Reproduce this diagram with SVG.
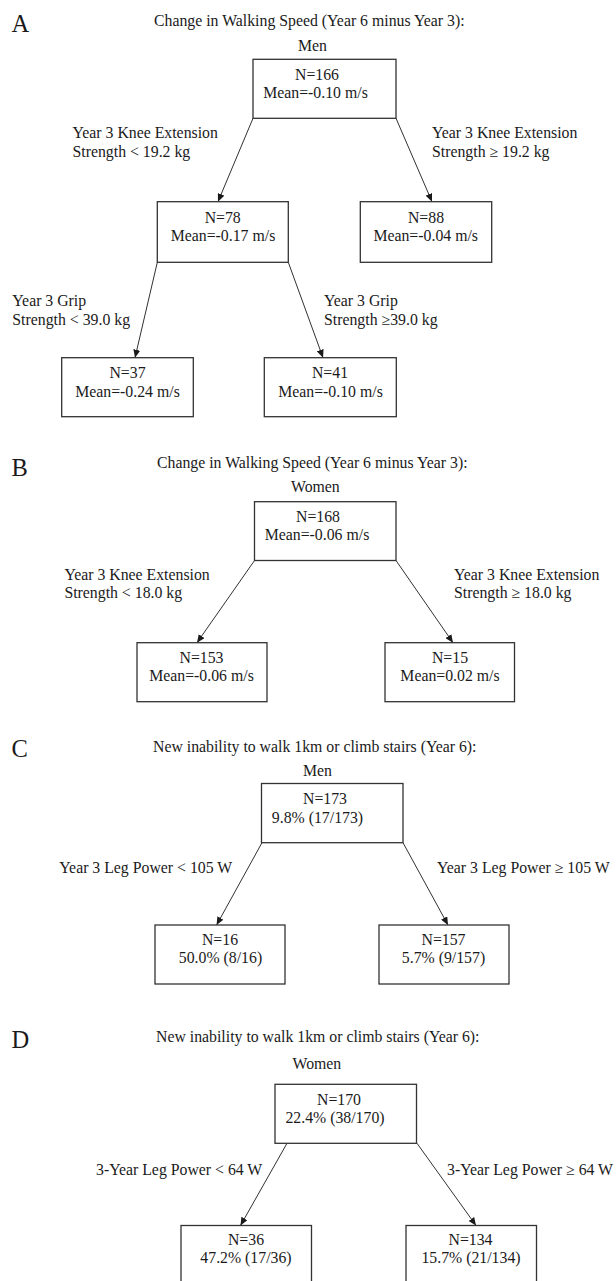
<svg xmlns="http://www.w3.org/2000/svg" width="616" height="1281" viewBox="0 0 616 1281">
<style>
text{font-family:"Liberation Serif","Times New Roman",serif;font-size:15.8px;fill:#1a1a1a}
.panel{font-size:24.5px}
.m{text-anchor:middle}
.box{fill:#fff;stroke:#333;stroke-width:1.3}
.edge{stroke:#1a1a1a;stroke-width:0.9;fill:none;marker-end:url(#arr)}
</style>
<defs>
<marker id="arr" markerUnits="userSpaceOnUse" markerWidth="9" markerHeight="7" refX="8" refY="3.5" orient="auto">
<path d="M0,0 L8,3.5 L0,7 z" fill="#1a1a1a"/>
</marker>
</defs>
<rect width="616" height="1281" fill="#fff"/>

<!-- Panel headers -->
<g id="headers">
<text class="panel" x="11.5" y="32">A</text>
<text x="154" y="25.5">Change in Walking Speed (Year 6 minus Year 3):</text>
<text x="298" y="51">Men</text>
<text class="panel" x="11.5" y="475.5">B</text>
<text x="157" y="468.3">Change in Walking Speed (Year 6 minus Year 3):</text>
<text x="291" y="491.7">Women</text>
<text class="panel" x="11.5" y="757">C</text>
<text x="153" y="751.7">New inability to walk 1km or climb stairs (Year 6):</text>
<text x="303" y="776">Men</text>
<text class="panel" x="11.5" y="1048">D</text>
<text x="156" y="1041.7">New inability to walk 1km or climb stairs (Year 6):</text>
<text x="292.5" y="1069">Women</text>
</g>

<!-- Connectors -->
<g id="connectors">
<line class="edge" x1="253" y1="118.3" x2="218" y2="201.7"/>
<line class="edge" x1="396" y1="118.3" x2="432" y2="201.7"/>
<line class="edge" x1="157.3" y1="262.3" x2="135" y2="357.7"/>
<line class="edge" x1="288.3" y1="262.3" x2="323" y2="357.7"/>
<line class="edge" x1="254.5" y1="560.5" x2="197" y2="642.7"/>
<line class="edge" x1="396" y1="560.5" x2="453" y2="642.7"/>
<line class="edge" x1="262" y1="842.7" x2="216.6" y2="925"/>
<line class="edge" x1="403" y1="842.7" x2="448" y2="925"/>
<line class="edge" x1="287" y1="1143.3" x2="240.5" y2="1225.5"/>
<line class="edge" x1="417" y1="1143.3" x2="476" y2="1225.5"/>
<text x="72.5" y="138">Year 3 Knee Extension</text>
<text x="72.5" y="157">Strength &lt; 19.2 kg</text>
<text x="432" y="138">Year 3 Knee Extension</text>
<text x="432" y="157">Strength ≥ 19.2 kg</text>
<text x="12.3" y="306">Year 3 Grip</text>
<text x="12.3" y="324.5">Strength &lt; 39.0 kg</text>
<text x="324" y="306">Year 3 Grip</text>
<text x="324" y="324.5">Strength ≥39.0 kg</text>
<text x="64.4" y="580">Year 3 Knee Extension</text>
<text x="64.4" y="598.3">Strength &lt; 18.0 kg</text>
<text x="454" y="580">Year 3 Knee Extension</text>
<text x="454" y="598.3">Strength ≥ 18.0 kg</text>
<text x="59.3" y="873.3">Year 3 Leg Power &lt; 105 W</text>
<text x="437" y="873.3">Year 3 Leg Power ≥ 105 W</text>
<text x="96" y="1174.5">3-Year Leg Power &lt; 64 W</text>
<text x="447" y="1174.5">3-Year Leg Power ≥ 64 W</text>
</g>

<!-- Panel A nodes -->
<g id="a-root">
<rect class="box" x="253" y="59.3" width="143" height="59"/>
<text class="m" x="317" y="79.5">N=166</text>
<text class="m" x="315.5" y="98">Mean=-0.10 m/s</text>
</g>
<g id="a-n78">
<rect class="box" x="157.3" y="201.7" width="131" height="60.6"/>
<text class="m" x="222.7" y="222.7">N=78</text>
<text class="m" x="223" y="240.7">Mean=-0.17 m/s</text>
</g>
<g id="a-n88">
<rect class="box" x="360.3" y="201.7" width="131.4" height="60.6"/>
<text class="m" x="426" y="222.7">N=88</text>
<text class="m" x="425.7" y="240.7">Mean=-0.04 m/s</text>
</g>
<g id="a-n37">
<rect class="box" x="61.7" y="357.7" width="131.6" height="59"/>
<text class="m" x="127.5" y="378.3">N=37</text>
<text class="m" x="127.5" y="396.7">Mean=-0.24 m/s</text>
</g>
<g id="a-n41">
<rect class="box" x="264.3" y="357.7" width="132" height="59"/>
<text class="m" x="330" y="378.3">N=41</text>
<text class="m" x="330.5" y="396.7">Mean=-0.10 m/s</text>
</g>

<!-- Panel B nodes -->
<g id="b-root">
<rect class="box" x="254.5" y="501.7" width="141.5" height="58.8"/>
<text class="m" x="318" y="521.7">N=168</text>
<text class="m" x="317" y="540">Mean=-0.06 m/s</text>
</g>
<g id="b-n153">
<rect class="box" x="137" y="642.7" width="130" height="59"/>
<text class="m" x="201.5" y="662.7">N=153</text>
<text class="m" x="201.5" y="680.7">Mean=-0.06 m/s</text>
</g>
<g id="b-n15">
<rect class="box" x="385" y="642.7" width="129.5" height="59"/>
<text class="m" x="450" y="662.7">N=15</text>
<text class="m" x="450" y="680.7">Mean=0.02 m/s</text>
</g>

<!-- Panel C nodes -->
<g id="c-root">
<rect class="box" x="261.5" y="783.5" width="141.5" height="59.2"/>
<text class="m" x="325" y="804">N=173</text>
<text class="m" x="317.5" y="822.7">9.8% (17/173)</text>
</g>
<g id="c-n16">
<rect class="box" x="155" y="925" width="130" height="59"/>
<text class="m" x="220" y="945">N=16</text>
<text class="m" x="220.5" y="963.3">50.0% (8/16)</text>
</g>
<g id="c-n157">
<rect class="box" x="379" y="925" width="130" height="59"/>
<text class="m" x="443.5" y="945">N=157</text>
<text class="m" x="443.5" y="963.3">5.7% (9/157)</text>
</g>

<!-- Panel D nodes -->
<g id="d-root">
<rect class="box" x="275" y="1084.3" width="141.5" height="59"/>
<text class="m" x="339" y="1105">N=170</text>
<text class="m" x="335" y="1123">22.4% (38/170)</text>
</g>
<g id="d-n36">
<rect class="box" x="181" y="1225.5" width="130.5" height="62"/>
<text class="m" x="246" y="1245">N=36</text>
<text class="m" x="246" y="1263.3">47.2% (17/36)</text>
</g>
<g id="d-n134">
<rect class="box" x="406" y="1225.5" width="130.5" height="62"/>
<text class="m" x="470.5" y="1245">N=134</text>
<text class="m" x="471" y="1263.3">15.7% (21/134)</text>
</g>
</svg>
